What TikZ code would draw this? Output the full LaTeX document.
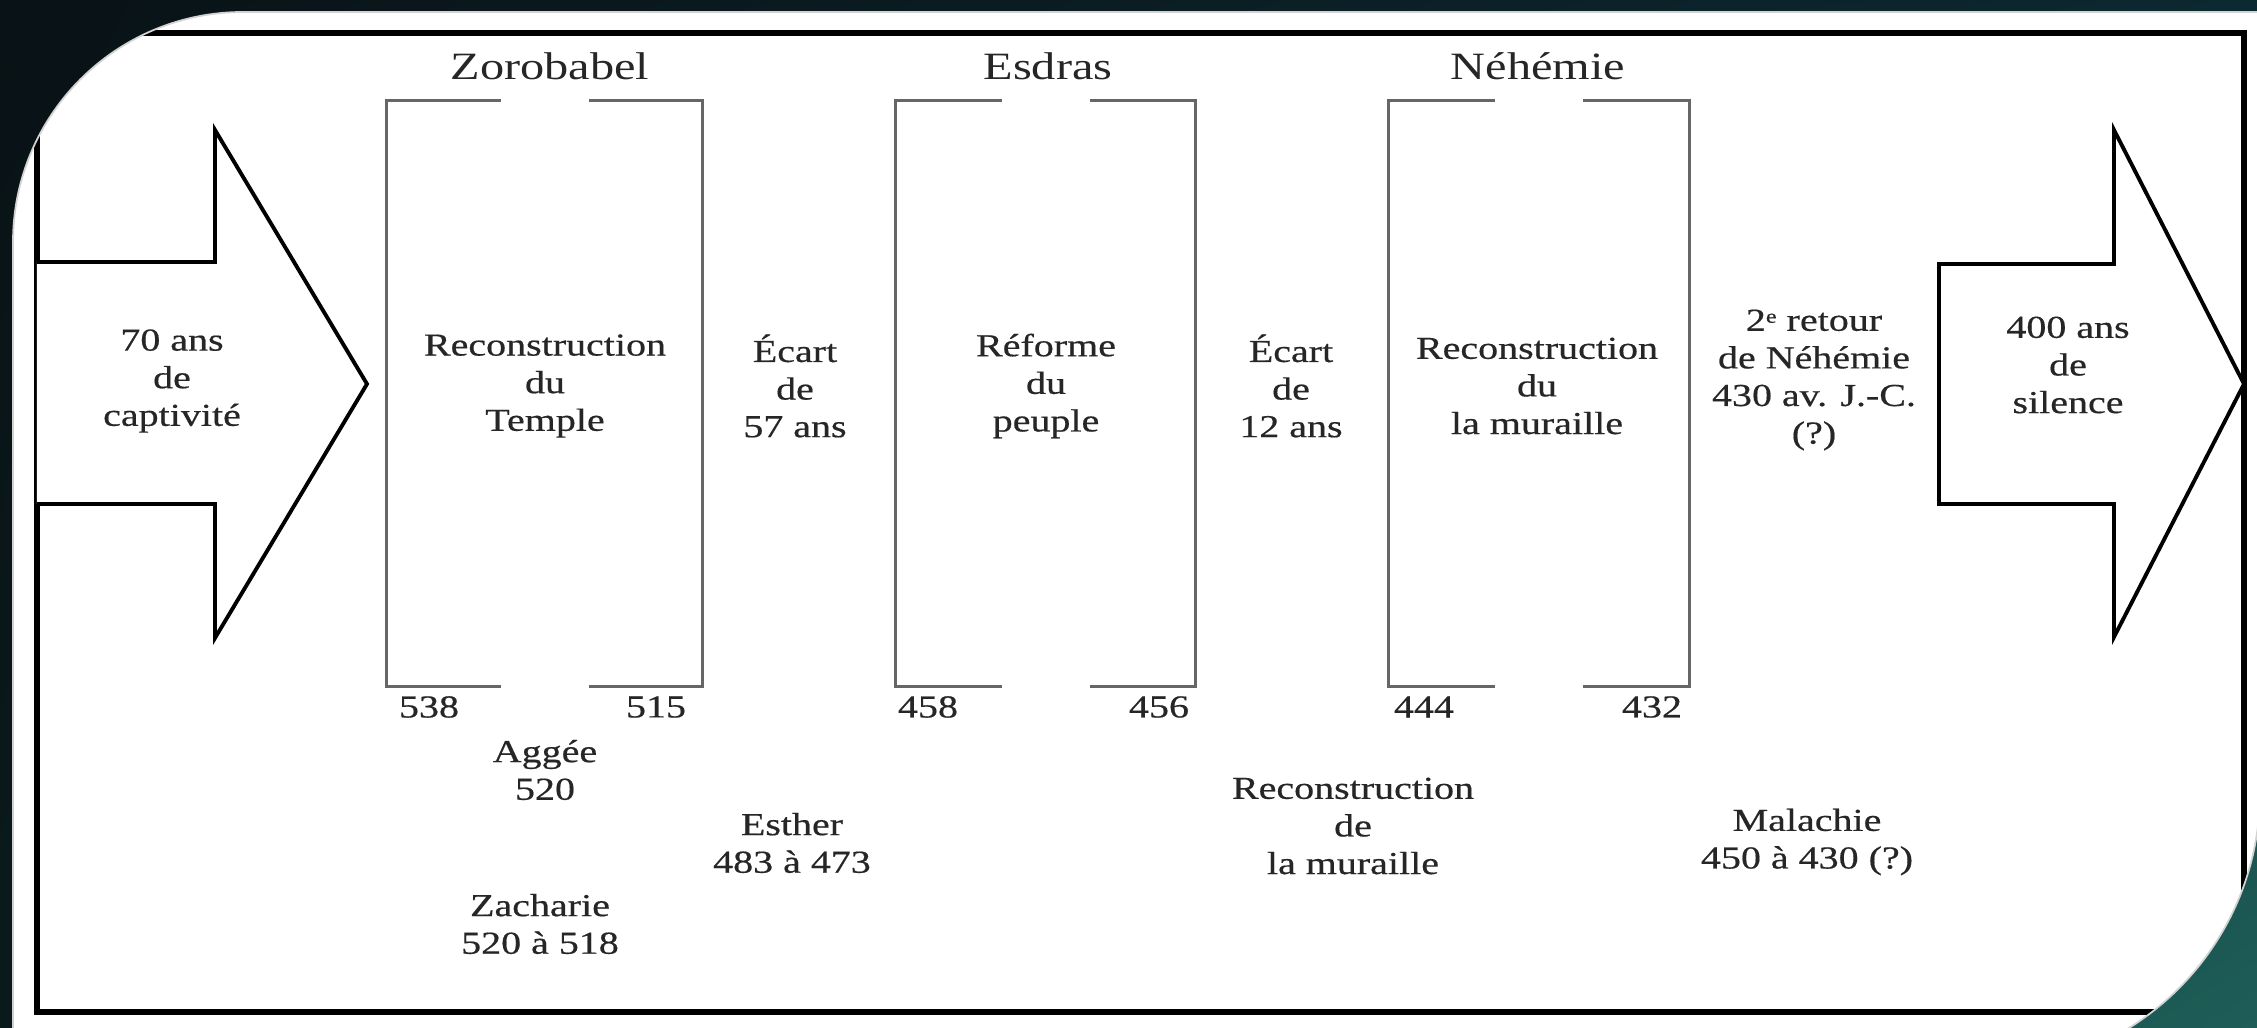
\documentclass[tikz,border=0pt]{standalone}
\usepackage{fontspec}
\usepackage{tikz}
\setmainfont{Liberation Serif}[FakeStretch=1.25, FakeBold=0.5]
\newfontfamily\titlefont{Liberation Serif}[FakeStretch=1.25]
\definecolor{bgtl}{RGB}{9,18,22}
\definecolor{bgtr}{RGB}{12,40,48}
\definecolor{bgbl}{RGB}{10,26,26}
\definecolor{bgbr}{RGB}{30,94,88}
\newcommand{\expo}[1]{\raisebox{0.55ex}{\fontsize{5.5}{5.5}\selectfont #1}}
\usetikzlibrary{calc,shadings}

\begin{document}
\begin{tikzpicture}[
    every node/.style={align=center, inner sep=0pt, text=black!85,
      font=\fontsize{9.1}{10.7}\selectfont},
    title/.style={font=\titlefont\fontsize{11}{13}\selectfont},
    period/.style={draw=black!60, line width=0.8pt},
    bigarrow/.style={draw=black, line width=1.1pt, fill=white}
  ]
    \useasboundingbox (0,0) rectangle (22.57,10.28);
    \shade[upper left=bgtl, upper right=bgtr, lower left=bgbl, lower right=bgbr]
      (0,0) rectangle (22.57,10.28);
    \begin{scope}
    \clip (0.13,-0.42) -- (0.13,7.86) arc[start angle=180, end angle=90, radius=2.3]
      -- (22.6,10.16) -- (22.6,2.36) arc[start angle=0, end angle=-90, radius=2.78] -- cycle;
    \fill[white] (0,0) rectangle (22.57,10.28);
    \draw[line width=1.6pt] (0.37,0.16) rectangle (22.44,9.95);

    % the two arrows
    \draw[bigarrow] (0.37,7.66) -- (2.15,7.66) -- (2.15,8.98) -- (3.67,6.44)
      -- (2.15,3.90) -- (2.15,5.24) -- (0.37,5.24);
    \draw[bigarrow] (19.39,7.64) -- (21.14,7.64) -- (21.14,8.98) -- (22.44,6.44)
      -- (21.14,3.91) -- (21.14,5.24) -- (19.39,5.24) -- cycle;
    \node (captivite) at (1.72,6.47) {70 ans\\de\\captivité};
    \node (silence) at (20.68,6.63) {400 ans\\de\\silence};

    % the three periods
    \node[minimum width=3.15cm, minimum height=5.85cm] (temple) at (5.445,6.345) {};
    \node[minimum width=2.99cm, minimum height=5.85cm] (reforme) at (10.455,6.345) {};
    \node[minimum width=3.00cm, minimum height=5.85cm] (muraille) at (15.39,6.345) {};
    \foreach \p in {temple,reforme,muraille} {
      \draw[period] ($(\p.north)+(-0.44,0)$) -| (\p.south west) -- ($(\p.south)+(-0.44,0)$);
      \draw[period] ($(\p.north)+(0.44,0)$) -| (\p.south east) -- ($(\p.south)+(0.44,0)$);
    }
    \node[title] (zorobabel) at (5.50,9.62) {Zorobabel};
    \node[title] (esdras) at (10.48,9.62) {Esdras};
    \node[title] (nehemie) at (15.38,9.62) {Néhémie};

    \node (templetxt) at (5.45,6.42) {Reconstruction\\du\\Temple};
    \node (reformetxt) at (10.46,6.42) {Réforme\\du\\peuple};
    \node (murailletxt) at (15.37,6.42) {Reconstruction\\du\\la muraille};
    \node (ecart1) at (7.95,6.42) {Écart\\de\\57 ans};
    \node (ecart2) at (12.91,6.42) {Écart\\de\\12 ans};
    \node (retour) at (18.14,6.48) {2\expo{e} retour\\de Néhémie\\430 av. J.-C.\\(?)};

    % dates
    \node (d538) at (4.29,3.21) {538};
    \node (d515) at (6.56,3.21) {515};
    \node (d458) at (9.28,3.21) {458};
    \node (d456) at (11.59,3.21) {456};
    \node (d444) at (14.24,3.21) {444};
    \node (d432) at (16.52,3.21) {432};

    % prophets
    \node (aggee) at (5.45,2.58) {Aggée\\520};
    \node (zacharie) at (5.40,1.04) {Zacharie\\520 à 518};
    \node (esther) at (7.92,1.85) {Esther\\483 à 473};
    \node (murs) at (13.53,2.02) {Reconstruction\\de\\la muraille};
    \node (malachie) at (18.07,1.86) {Malachie\\450 à 430 (?)};
    \end{scope}
    \draw[gray!35, line width=0.5pt] (0.13,-0.42) -- (0.13,7.86)
      arc[start angle=180, end angle=90, radius=2.3] -- (22.6,10.16)
      -- (22.6,2.36) arc[start angle=0, end angle=-90, radius=2.78];
\end{tikzpicture}
\end{document}
